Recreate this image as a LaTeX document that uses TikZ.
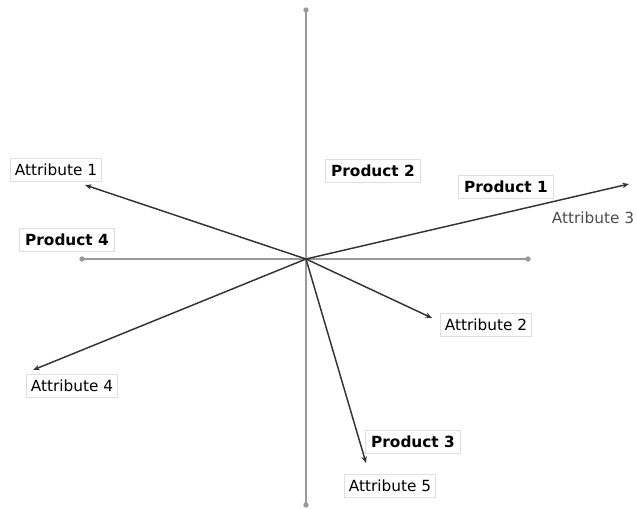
\documentclass[tikz,border=0pt]{standalone}
\usepackage{fontspec}
\setmainfont{DejaVu Sans}
\usetikzlibrary{arrows.meta}
\tikzset{axis/.style={gray!80,line width=1.4pt},
  vec/.style={black!80,line width=1.1pt,-{Stealth[length=5pt,width=4pt]}},
  tag/.style={draw=gray!25,line width=0.6pt,fill=white,inner xsep=3.5pt,inner ysep=4pt,font=\fontsize{11.5}{13}\selectfont},
  prod/.style={tag,inner xsep=4.5pt,font=\fontsize{11.5}{13}\selectfont\bfseries}}

\begin{document}
\begin{tikzpicture}[x=0.75pt,y=-0.75pt]
  \useasboundingbox (0,0) rectangle (637,509);
  \coordinate (o) at (306,259);
  \coordinate (top) at (306,10);
  \coordinate (bot) at (306,505);
  \coordinate (lft) at (82,259);
  \coordinate (rgt) at (528,259);
  \draw[axis] (top) -- (bot);
  \draw[axis] (lft) -- (rgt);
  \foreach \p in {top,bot,lft,rgt} \fill[gray!80] (\p) circle (2pt);
  % attribute vectors
  \coordinate (a1) at (85,185);
  \coordinate (a2) at (432,318);
  \coordinate (a3) at (629,184);
  \coordinate (a4) at (33,370);
  \coordinate (a5) at (366,463);
  \foreach \a in {a1,a2,a3,a4,a5} \draw[vec] (o) -- (\a);
  \node[tag] (t1) at (56,170) {Attribute 1};
  \node[tag] (t2) at (486,325) {Attribute 2};
  \node[tag,draw=none,fill=none,text=black!70,inner sep=0pt] (t3) at (593,218) {Attribute 3};
  \node[tag] (t4) at (72,386) {Attribute 4};
  \node[tag] (t5) at (390,486) {Attribute 5};
  % products
  \node[prod] (p1) at (506,187) {Product 1};
  \node[prod] (p2) at (373,171) {Product 2};
  \node[prod] (p3) at (413,442) {Product 3};
  \node[prod] (p4) at (67,240) {Product 4};
\end{tikzpicture}
\end{document}
